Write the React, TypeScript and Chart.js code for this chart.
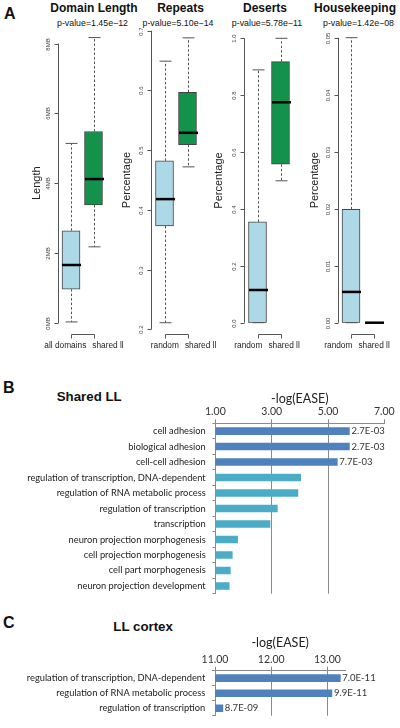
import React, { useEffect, useRef } from "react";
import { Chart, registerables } from "chart.js";

Chart.register(...registerables);

// ---------------- Panel A data ----------------
const panelTitles = ["Domain Length", "Repeats", "Deserts", "Housekeeping"];
const pValueLabels = [
  "p-value=1.45e\u221212",
  "p-value=5.10e\u221214",
  "p-value=5.78e\u221211",
  "p-value=1.42e\u221208",
];
const yAxisTitles = ["Length", "Percentage", "Percentage", "Percentage"];
const domainLengthGroups = ["all domains", "shared ll"];
const repeatsGroups = ["random", "shared ll"];
const desertsGroups = ["random", "shared ll"];
const housekeepingGroups = ["random", "shared ll"];

// five-number summaries per group: [min, q1, median, q3, max]
const domainLengthStats = [
  [0.03, 0.97, 1.66, 2.64, 5.14],
  [2.18, 3.38, 4.12, 5.48, 8.17],
];
const repeatsStats = [
  [0.211, 0.373, 0.418, 0.482, 0.649],
  [0.472, 0.509, 0.529, 0.597, 0.688],
];
const desertsStats = [
  [0, 0, 0.115, 0.355, 0.889],
  [0.499, 0.557, 0.775, 0.918, 1.0],
];
const housekeepingStats = [
  [0, 0, 0.0054, 0.0199, 0.05],
  [0, 0, 0, 0, 0],
];

const domainLengthTicks = [0, 2, 4, 6, 8];
const domainLengthTickLabels = ["0MB", "2MB", "4MB", "6MB", "8MB"];
const repeatsTicks = [0.2, 0.3, 0.4, 0.5, 0.6, 0.7];
const repeatsTickLabels = ["0.2", "0.3", "0.4", "0.5", "0.6", "0.7"];
const desertsTicks = [0, 0.2, 0.4, 0.6, 0.8, 1.0];
const desertsTickLabels = ["0.0", "0.2", "0.4", "0.6", "0.8", "1.0"];
const housekeepingTicks = [0, 0.01, 0.02, 0.03, 0.04, 0.05];
const housekeepingTickLabels = ["0.00", "0.01", "0.02", "0.03", "0.04", "0.05"];

// ---------------- Panel B data ----------------
const sharedCategories = [
  "cell adhesion",
  "biological adhesion",
  "cell-cell adhesion",
  "regulation of transcription, DNA-dependent",
  "regulation of RNA metabolic process",
  "regulation of transcription",
  "transcription",
  "neuron projection morphogenesis",
  "cell projection morphogenesis",
  "cell part morphogenesis",
  "neuron projection development",
];
const sharedValues = [5.76, 5.76, 5.33, 4.03, 3.93, 3.2, 2.94, 1.79, 1.6, 1.53, 1.49];
const sharedEase = ["2.7E-03", "2.7E-03", "7.7E-03", "", "", "", "", "", "", "", ""];
const sharedColorGroup = [0, 0, 0, 1, 1, 1, 1, 1, 1, 1, 1];
const sharedTicks = [1, 3, 5, 7];
const sharedTickLabels = ["1.00", "3.00", "5.00", "7.00"];
const sharedAxisMin = 1;
const sharedAxisMax = 7;

// ---------------- Panel C data ----------------
const cortexCategories = [
  "regulation of transcription, DNA-dependent",
  "regulation of RNA metabolic process",
  "regulation of transcription",
];
const cortexValues = [13.23, 13.08, 11.14];
const cortexEase = ["7.0E-11", "9.9E-11", "8.7E-09"];
const cortexColorGroup = [0, 0, 0];
const cortexTicks = [11, 12, 13];
const cortexTickLabels = ["11.00", "12.00", "13.00"];
const cortexAxisMin = 11;
const cortexAxisMax = 13.32;

// ---------------- styles ----------------
const FONT_A = '"Liberation Sans", Arial, sans-serif';
const FONT_X = 'Lato, "Open Sans", sans-serif';
const LIGHTBLUE = "#ADD8E6";
const GREEN = "#12924A";
const BOX_BORDER = "#444";
const WHISKER = "#555";
const AXIS_A = "#555";
const EXCEL_BLUE = "#4F81BD";
const EXCEL_AQUA = "#4BACC6";
const GRID = "#8a8a8a";

const boxPanels = [
  { groups: domainLengthGroups, stats: domainLengthStats, ticks: domainLengthTicks, tickLabels: domainLengthTickLabels },
  { groups: repeatsGroups, stats: repeatsStats, ticks: repeatsTicks, tickLabels: repeatsTickLabels },
  { groups: desertsGroups, stats: desertsStats, ticks: desertsTicks, tickLabels: desertsTickLabels },
  { groups: housekeepingGroups, stats: housekeepingStats, ticks: housekeepingTicks, tickLabels: housekeepingTickLabels },
];

const BOX_TOP = 28;
const BOX_HEIGHT = 330;
const boxGeometry = [
  { left: 30, width: 102, axisWidth: 29.75, padRight: 27.25, padTop: 15.5, padBottom: 35, labelShift: 1 },
  { left: 120, width: 107, axisWidth: 33, padRight: 28, padTop: 2.7, padBottom: 28.7, labelShift: 6.5 },
  { left: 212, width: 100, axisWidth: 34, padRight: 20, padTop: 10.3, padBottom: 35.3, labelShift: -3 },
  { left: 308, width: 92, axisWidth: 31.75, padRight: 15.25, padTop: 9.7, padBottom: 35.3, labelShift: -6 },
];
const titleCenters = [94, 180.5, 265, 355];
const pValueCenters = [92.5, 178, 267, 358.5];

function line(ctx: CanvasRenderingContext2D, x1: number, y1: number, x2: number, y2: number) {
  ctx.beginPath();
  ctx.moveTo(x1, y1);
  ctx.lineTo(x2, y2);
  ctx.stroke();
}

function BoxPanel({ index }: { index: number }) {
  const ref = useRef<HTMLCanvasElement>(null);
  const panel = boxPanels[index];
  const geo = boxGeometry[index];
  useEffect(() => {
    if (!ref.current) return;
    const extras = {
      id: "boxExtras",
      afterDatasetsDraw(chart: any) {
        const ctx: CanvasRenderingContext2D = chart.ctx;
        const xs = chart.scales.x;
        const ys = chart.scales.y;
        const area = chart.chartArea;
        ctx.save();
        // whiskers, staples, medians
        panel.stats.forEach((s, i) => {
          const x = Math.round(xs.getPixelForValue(i)) + 0.5;
          const [mn, q1, med, q3, mx] = s.map((v) => ys.getPixelForValue(v));
          ctx.strokeStyle = WHISKER;
          ctx.lineWidth = 1;
          ctx.setLineDash([2.5, 2]);
          if (mx < q3) line(ctx, x, q3, x, mx);
          if (mn > q1) line(ctx, x, q1, x, mn);
          ctx.setLineDash([]);
          line(ctx, x - 6, mx, x + 6, mx);
          line(ctx, x - 6, mn, x + 6, mn);
          ctx.strokeStyle = "#000";
          ctx.lineWidth = 2.5;
          line(ctx, x - 9.5, med, x + 9.5, med);
        });
        // y axis (R style: from first to last tick)
        const axisX = Math.round(area.left - 2) + 0.5;
        const yTop = ys.getPixelForValue(panel.ticks[panel.ticks.length - 1]);
        const yBot = ys.getPixelForValue(panel.ticks[0]);
        ctx.strokeStyle = AXIS_A;
        ctx.lineWidth = 1;
        line(ctx, axisX, yTop, axisX, yBot);
        ctx.fillStyle = "#444";
        ctx.font = `6px ${FONT_A}`;
        ctx.textAlign = "center";
        ctx.textBaseline = "middle";
        panel.ticks.forEach((v, k) => {
          const y = Math.round(ys.getPixelForValue(v)) + 0.5;
          line(ctx, axisX - 4, y, axisX, y);
          ctx.save();
          ctx.translate(axisX - 10, y);
          ctx.rotate(-Math.PI / 2);
          ctx.fillText(panel.tickLabels[k], 0, 0);
          ctx.restore();
        });
        // x axis bracket
        const bx1 = Math.round(xs.getPixelForValue(0)) + 0.5;
        const bx2 = Math.round(xs.getPixelForValue(1)) + 0.5;
        const by = Math.round(chart.height - 23.7) + 0.5;
        line(ctx, bx1, by, bx2, by);
        line(ctx, bx1, by, bx1, by + 4);
        line(ctx, bx2, by, bx2, by + 4);
        // group labels
        ctx.font = `8.3px ${FONT_A}`;
        ctx.fillStyle = "#222";
        ctx.textAlign = "left";
        ctx.textBaseline = "alphabetic";
        const w1 = ctx.measureText(panel.groups[0]).width;
        const w2 = ctx.measureText(panel.groups[1]).width;
        const gap = 6;
        const total = w1 + gap + w2;
        const cx = (bx1 + bx2) / 2 + geo.labelShift;
        const lx = cx - total / 2;
        const ly = chart.height - 9.7;
        ctx.fillText(panel.groups[0], lx, ly);
        ctx.fillText(panel.groups[1], lx + w1 + gap, ly);
        ctx.restore();
      },
    };
    const chart = new Chart(ref.current, {
      type: "bar",
      data: {
        labels: panel.groups,
        datasets: [
          {
            data: panel.stats.map((s) => [s[1], s[3]]) as any,
            backgroundColor: [LIGHTBLUE, GREEN],
            borderColor: BOX_BORDER,
            borderWidth: 1,
            borderSkipped: false,
            barThickness: 18,
          },
        ],
      },
      options: {
        responsive: false,
        animation: false,
        events: [],
        layout: { padding: { left: 0, right: geo.padRight, top: geo.padTop, bottom: geo.padBottom } },
        plugins: { legend: { display: false }, tooltip: { enabled: false } },
        scales: {
          x: { display: false },
          y: {
            min: panel.ticks[0],
            max: panel.ticks[panel.ticks.length - 1],
            afterBuildTicks: (s: any) => {
              s.ticks = panel.ticks.map((v) => ({ value: v }));
            },
            afterFit: (s: any) => {
              s.width = geo.axisWidth;
            },
            ticks: { display: false },
            grid: { display: false },
            border: { display: false },
            title: {
              display: true,
              text: yAxisTitles[index],
              font: { family: FONT_A, size: 11 },
              color: "#222",
              padding: 0,
            },
          },
        },
      } as any,
      plugins: [extras],
    });
    return () => chart.destroy();
  }, []);
  return (
    <canvas
      ref={ref}
      width={geo.width}
      height={BOX_HEIGHT}
      style={{ position: "absolute", left: geo.left, top: BOX_TOP }}
    />
  );
}

type BarSpec = {
  categories: string[];
  values: number[];
  ease: string[];
  colorGroup: number[];
  ticks: number[];
  tickLabels: string[];
  min: number;
  max: number;
};

const sharedSpec: BarSpec = {
  categories: sharedCategories,
  values: sharedValues,
  ease: sharedEase,
  colorGroup: sharedColorGroup,
  ticks: sharedTicks,
  tickLabels: sharedTickLabels,
  min: sharedAxisMin,
  max: sharedAxisMax,
};
const cortexSpec: BarSpec = {
  categories: cortexCategories,
  values: cortexValues,
  ease: cortexEase,
  colorGroup: cortexColorGroup,
  ticks: cortexTicks,
  tickLabels: cortexTickLabels,
  min: cortexAxisMin,
  max: cortexAxisMax,
};

const barGeometry = {
  shared: { top: 391, height: 215, axisHeight: 32.3, axisWidth: 215.4, padRight: 15.7, padBottom: 4.3 },
  cortex: { top: 635, height: 93, axisHeight: 35.7, axisWidth: 215, padRight: 54.6, padBottom: 4 },
};

function BarPanel({ spec, geo }: { spec: BarSpec; geo: any }) {
  const ref = useRef<HTMLCanvasElement>(null);
  useEffect(() => {
    if (!ref.current) return;
    const valueLabels = {
      id: "valueLabels",
      afterDatasetsDraw(chart: any) {
        const ctx: CanvasRenderingContext2D = chart.ctx;
        const meta = chart.getDatasetMeta(0);
        ctx.save();
        ctx.font = `9.5px ${FONT_X}`;
        ctx.fillStyle = "#333";
        ctx.textAlign = "left";
        ctx.textBaseline = "middle";
        meta.data.forEach((bar: any, i: number) => {
          const t = spec.ease[i];
          if (t) ctx.fillText(t, bar.x + 2, bar.y);
        });
        ctx.restore();
      },
    };
    const lastTick = spec.ticks[spec.ticks.length - 1];
    const chart = new Chart(ref.current, {
      type: "bar",
      data: {
        labels: spec.categories,
        datasets: [
          {
            data: spec.values,
            backgroundColor: spec.colorGroup.map((g) => (g === 0 ? EXCEL_BLUE : EXCEL_AQUA)),
            barThickness: 7,
            borderWidth: 0,
          },
        ],
      },
      options: {
        indexAxis: "y",
        responsive: false,
        animation: false,
        events: [],
        layout: { padding: { left: 0, right: geo.padRight, top: 0, bottom: geo.padBottom } },
        plugins: { legend: { display: false }, tooltip: { enabled: false } },
        scales: {
          x: {
            position: "top",
            min: spec.min,
            max: spec.max,
            afterBuildTicks: (s: any) => {
              s.ticks = spec.ticks.map((v) => ({ value: v }));
            },
            afterFit: (s: any) => {
              s.height = geo.axisHeight;
            },
            ticks: {
              callback: (_v: any, i: number) => spec.tickLabels[i],
              font: { family: FONT_X, size: 10.5 },
              color: "#333",
              padding: 1,
              maxRotation: 0,
              autoSkip: false,
            },
            grid: {
              color: (c: any) =>
                c.tick && (c.tick.value === spec.min || (c.tick.value === lastTick && lastTick === spec.max))
                  ? "rgba(0,0,0,0)"
                  : GRID,
              tickColor: GRID,
              tickLength: 4,
            },
            border: { color: GRID },
            title: {
              display: true,
              text: "-log(EASE)",
              font: { family: FONT_X, size: 12.5 },
              color: "#222",
              padding: 0,
            },
          },
          y: {
            afterFit: (s: any) => {
              s.width = geo.axisWidth;
            },
            ticks: { font: { family: FONT_X, size: 9.3 }, color: "#222", padding: 6.7, autoSkip: false },
            grid: { drawOnChartArea: false, tickLength: 3, color: GRID, offset: true },
            border: { color: GRID },
          },
        },
      } as any,
      plugins: [valueLabels],
    });
    return () => chart.destroy();
  }, []);
  return (
    <canvas
      ref={ref}
      width={400}
      height={geo.height}
      style={{ position: "absolute", left: 0, top: geo.top }}
    />
  );
}

function Label({
  text,
  x,
  baseline,
  size,
  bold,
  center,
}: {
  text: string;
  x: number;
  baseline: number;
  size: number;
  bold?: boolean;
  center?: boolean;
}) {
  const style: React.CSSProperties = {
    position: "absolute",
    left: x,
    top: baseline - 0.8465 * size,
    fontFamily: FONT_A,
    fontSize: size,
    fontWeight: bold ? 700 : 400,
    lineHeight: `${size}px`,
    whiteSpace: "nowrap",
    color: "#111",
    transform: center ? "translateX(-50%)" : undefined,
  };
  return <div style={style}>{text}</div>;
}

export default function App() {
  return (
    <div
      style={{
        position: "fixed",
        left: 0,
        top: 0,
        width: 400,
        height: 728,
        background: "#fff",
        overflow: "hidden",
      }}
    >
      <Label text="A" x={4} baseline={20} size={16} bold />
      {panelTitles.map((t, i) => (
        <Label key={"t" + i} text={t} x={titleCenters[i]} baseline={11.7} size={12} bold center />
      ))}
      {pValueLabels.map((t, i) => (
        <Label key={"p" + i} text={t} x={pValueCenters[i]} baseline={26} size={8.8} center />
      ))}
      {boxPanels.map((_, i) => (
        <BoxPanel key={"b" + i} index={i} />
      ))}
      <Label text="B" x={3} baseline={394} size={16} bold />
      <Label text="Shared LL" x={56.7} baseline={401.7} size={13.3} bold />
      <BarPanel spec={sharedSpec} geo={barGeometry.shared} />
      <Label text="C" x={3} baseline={628.5} size={16} bold />
      <Label text="LL cortex" x={113.3} baseline={631.7} size={13.3} bold />
      <BarPanel spec={cortexSpec} geo={barGeometry.cortex} />
    </div>
  );
}
